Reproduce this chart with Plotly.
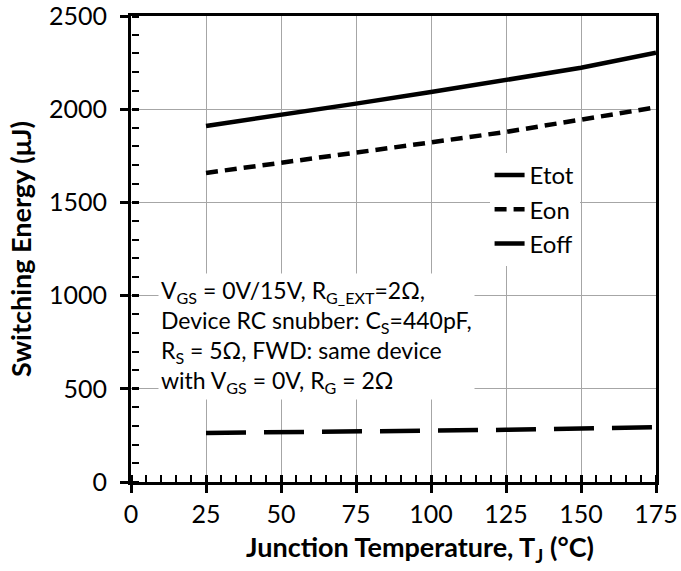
import plotly.graph_objects as go

tj = [25, 50, 75, 100, 125, 150, 175]
etot = [1910, 1968, 2030, 2092, 2155, 2222, 2303]
eon = [1658, 1712, 1762, 1822, 1878, 1942, 2010]
eoff = [263, 266, 270, 274, 280, 287, 294]

x_ticks = [0, 25, 50, 75, 100, 125, 150, 175]
y_ticks = [0, 500, 1000, 1500, 2000, 2500]
x_minor_step = 5
y_minor_step = 100

FONT = "Lato"
TICK_SIZE = 25
TITLE_SIZE = 27

fig = go.Figure()
fig.add_trace(go.Scatter(x=tj, y=etot, mode="lines", name="Etot",
                         line=dict(color="black", width=4.5)))
fig.add_trace(go.Scatter(x=tj, y=eon, mode="lines", name="Eon",
                         line=dict(color="black", width=4.5, dash="12px,7px")))
fig.add_trace(go.Scatter(x=tj, y=eoff, mode="lines", name="Eoff",
                         line=dict(color="black", width=4.5, dash="40px,18px")))
# invisible traces hosting the overlay axes that draw the inner tick marks
fig.add_trace(go.Scatter(x=tj, y=eoff, mode="lines", xaxis="x2", yaxis="y2",
                         line=dict(width=0, color="rgba(0,0,0,0)"),
                         showlegend=False, hoverinfo="skip"))
fig.add_trace(go.Scatter(x=tj, y=eoff, mode="lines", xaxis="x3", yaxis="y3",
                         line=dict(width=0, color="rgba(0,0,0,0)"),
                         showlegend=False, hoverinfo="skip"))

GRID = "#a6a6a6"
axis_common = dict(
    showline=True, linecolor="black", linewidth=3, mirror=True,
    ticks="outside", ticklen=8, tickwidth=3, tickcolor="black",
    showgrid=True, gridcolor=GRID, gridwidth=1, zeroline=False,
    tickfont=dict(family=FONT, size=TICK_SIZE, color="black"),
    automargin=False, ticklabeloverflow="allow", tickmode="linear",
)
# overlay axes placed on the bottom / left edge but with flipped side, so that
# their "outside" ticks point into the plot area
overlay_common = dict(
    ticks="outside", tickcolor="black", anchor="free", position=0,
    showticklabels=False, showgrid=False, zeroline=False, showline=False,
    automargin=False, tickmode="linear",
)

fig.update_layout(
    width=681, height=571,
    margin=dict(l=131, r=25, t=16, b=89),
    paper_bgcolor="white", plot_bgcolor="rgba(0,0,0,0)",
    font=dict(family=FONT, color="black"),
    xaxis=dict(axis_common, range=[x_ticks[0], x_ticks[-1]],
               tick0=x_ticks[0], dtick=x_ticks[1] - x_ticks[0]),
    yaxis=dict(axis_common, range=[y_ticks[0], y_ticks[-1]],
               tick0=y_ticks[0], dtick=y_ticks[1] - y_ticks[0],
               ticklabelstandoff=8,
               title=dict(text="<b>Switching Energy (μJ)</b>",
                          font=dict(family=FONT, size=TITLE_SIZE), standoff=10)),
    # inner half of the major ticks
    xaxis2=dict(overlay_common, overlaying="x", side="top",
                range=[x_ticks[0], x_ticks[-1]], ticklen=7, tickwidth=3,
                tick0=x_ticks[0], dtick=x_ticks[1] - x_ticks[0]),
    yaxis2=dict(overlay_common, overlaying="y", side="right",
                range=[y_ticks[0], y_ticks[-1]], ticklen=7, tickwidth=3,
                tick0=y_ticks[0], dtick=y_ticks[1] - y_ticks[0]),
    # minor ticks
    xaxis3=dict(overlay_common, overlaying="x", side="top",
                range=[x_ticks[0], x_ticks[-1]], ticklen=7, tickwidth=2,
                tick0=x_ticks[0], dtick=x_minor_step),
    yaxis3=dict(overlay_common, overlaying="y", side="right",
                range=[y_ticks[0], y_ticks[-1]], ticklen=7, tickwidth=2,
                tick0=y_ticks[0], dtick=y_minor_step),
    legend=dict(x=0.683, y=0.706, xanchor="left", yanchor="top",
                bgcolor="white", font=dict(family=FONT, size=24),
                tracegroupgap=0),
    showlegend=True,
)

# x-axis title (sits right of the plot centre in the reference)
fig.add_annotation(
    xref="paper", yref="paper", x=0.55, y=-0.143, xanchor="center", yanchor="middle",
    showarrow=False, font=dict(family=FONT, size=TITLE_SIZE, color="black"),
    text="<b>Junction Temperature, T<sub>J</sub> (°C)</b>",
)

fig.add_annotation(
    xref="x", yref="y", x=9.0, y=1121, xanchor="left", yanchor="top",
    align="left", showarrow=False, bgcolor="white", borderpad=2,
    font=dict(family=FONT, size=23, color="black"),
    text=("V<sub>GS</sub> = 0V/15V, R<sub>G_EXT</sub>=2Ω,<br>"
          "Device RC snubber: C<sub>S</sub>=440pF,<br>"
          "R<sub>S</sub> = 5Ω, FWD: same device<br>"
          "with V<sub>GS</sub> = 0V, R<sub>G</sub> = 2Ω"),
)

fig.write_html("out.html")
